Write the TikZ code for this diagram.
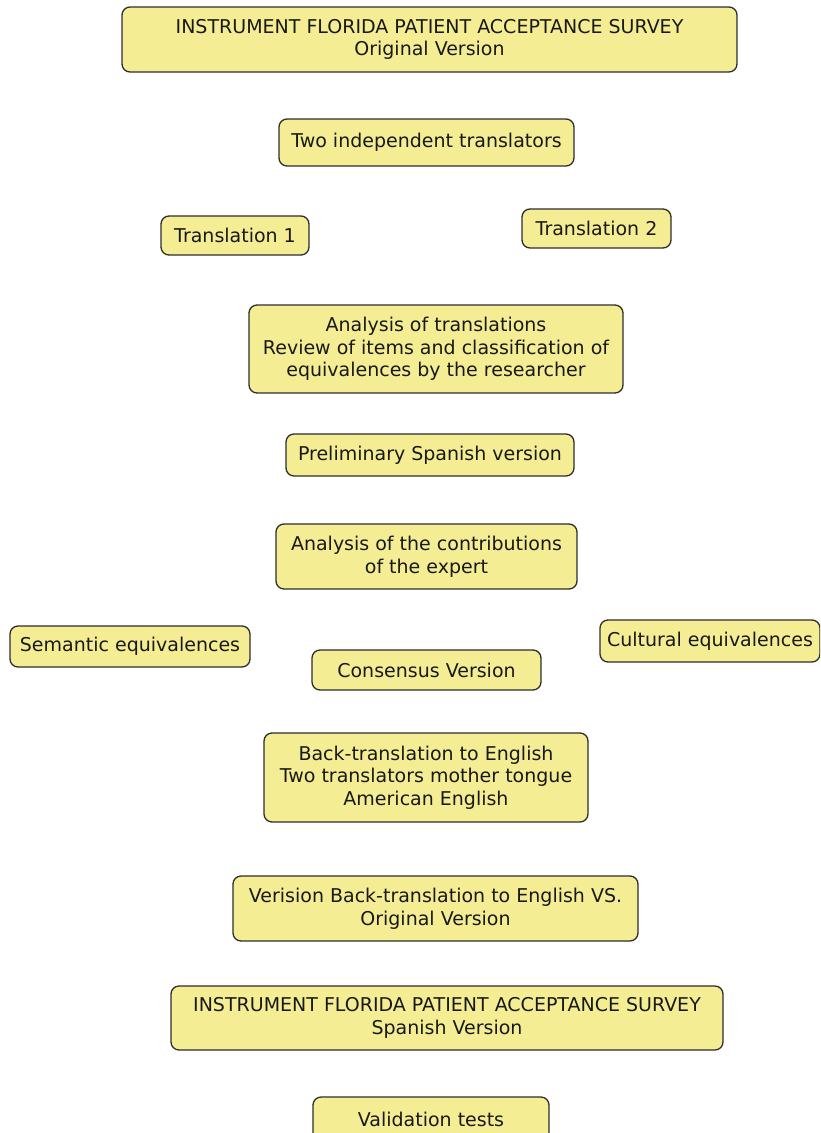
\documentclass[tikz,border=0pt]{standalone}
\usepackage{fontspec}
\setmainfont{DejaVu Sans}
\definecolor{boxfill}{RGB}{245,237,148}
\definecolor{boxline}{RGB}{45,45,45}
\definecolor{txt}{RGB}{25,25,25}
\begin{document}
\begin{tikzpicture}[x=1pt,y=-1pt,
  box/.style={draw=boxline, line width=1.3pt, fill=boxfill, rounded corners=8pt,
    inner sep=0pt, align=center, text=txt,
    font=\fontsize{19}{22.5}\selectfont}]
\useasboundingbox (0,0) rectangle (820,1133);
\begin{scope}
\clip (0,0) rectangle (820,1133);
\node[box, minimum width=615, minimum height=65] (orig) at (429.5,39.5) {INSTRUMENT FLORIDA PATIENT ACCEPTANCE SURVEY\\Original Version};
\node[box, minimum width=295, minimum height=47] (two) at (426.5,142.5) {Two independent translators};
\node[box, minimum width=148, minimum height=39] (t1) at (235,235.5) {Translation 1};
\node[box, minimum width=149, minimum height=39] (t2) at (596.5,228.5) {Translation 2};
\node[box, minimum width=374, minimum height=88] (anal) at (436,349) {Analysis of translations\\Review of items and classification of\\equivalences by the researcher};
\node[box, minimum width=288, minimum height=42] (prel) at (430,455) {Preliminary Spanish version};
\node[box, minimum width=301, minimum height=65] (expert) at (426.5,556.5) {Analysis of the contributions\\of the expert};
\node[box, minimum width=240, minimum height=41] (sem) at (130,646.5) {Semantic equivalences};
\node[box, minimum width=229, minimum height=40] (cons) at (426.5,670) {Consensus Version};
\node[box, minimum width=220, minimum height=42] (cult) at (710,641) {Cultural equivalences};
\node[box, minimum width=324, minimum height=89] (back) at (426,777.5) {Back-translation to English\\Two translators mother tongue\\American English};
\node[box, minimum width=405, minimum height=65] (vs) at (435.5,908.5) {Verision Back-translation to English VS.\\Original Version};
\node[box, minimum width=552, minimum height=64] (span) at (447,1018) {INSTRUMENT FLORIDA PATIENT ACCEPTANCE SURVEY\\Spanish Version};
\node[box, minimum width=236, minimum height=44] (valid) at (431,1119) {Validation tests};
\end{scope}
\end{tikzpicture}
\end{document}
